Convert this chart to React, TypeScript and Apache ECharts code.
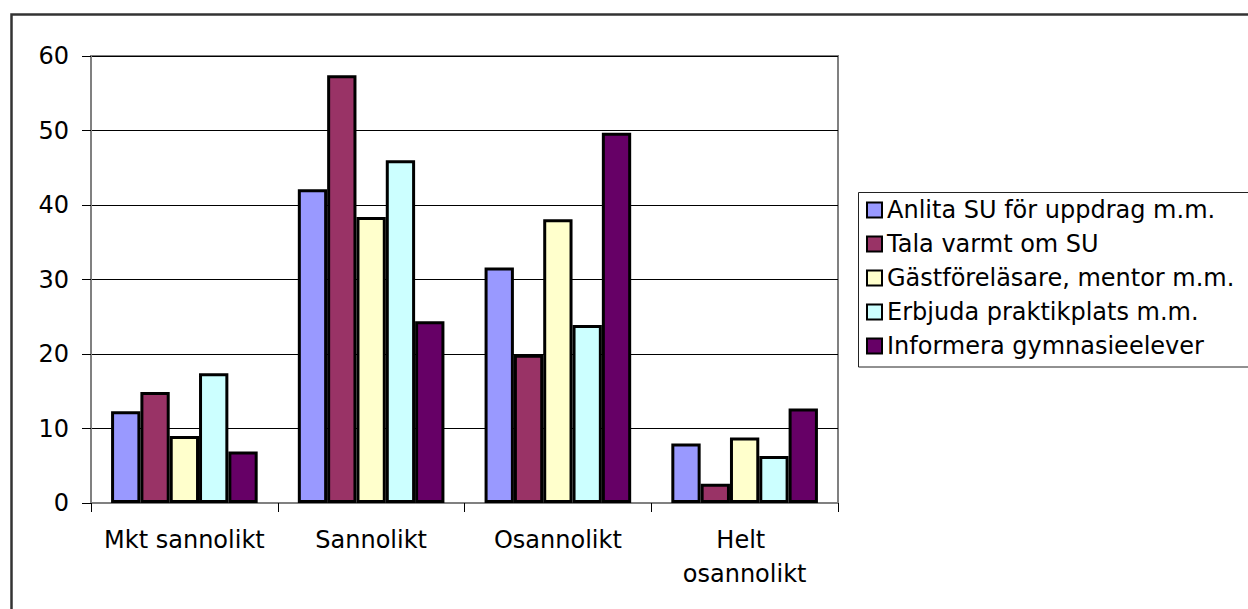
import React, { useEffect, useRef } from "react";
import * as echarts from "echarts";

const categories = ["Mkt sannolikt", "Sannolikt", "Osannolikt", "Helt osannolikt"];
const seriesNames = [
  "Anlita SU för uppdrag m.m.",
  "Tala varmt om SU",
  "Gästföreläsare, mentor m.m.",
  "Erbjuda praktikplats m.m.",
  "Informera gymnasieelever",
];
const anlita = [12.3, 42.1, 31.6, 8.0];
const tala = [14.9, 57.4, 19.9, 2.6];
const gast = [9.0, 38.4, 38.1, 8.8];
const erbjuda = [17.4, 46.0, 23.9, 6.3];
const informera = [6.9, 24.4, 49.7, 12.7];
const seriesValues = [anlita, tala, gast, erbjuda, informera];
const colors = ["#9999FF", "#993366", "#FFFFCC", "#CCFFFF", "#660066"];
const yTicks = [0, 10, 20, 30, 40, 50, 60];

const FONT = "DejaVu Sans";

export default function App() {
  const ref = useRef<HTMLDivElement>(null);
  useEffect(() => {
    if (!ref.current) return;
    const chart = echarts.init(ref.current, undefined, { renderer: "svg" });
    chart.setOption({
      animation: false,
      backgroundColor: "#ffffff",
      textStyle: { fontFamily: FONT, color: "#000" },
      graphic: [
        {
          type: "rect",
          shape: { x: 11.5, y: 14.5, width: 1400, height: 800 },
          style: { fill: "none", stroke: "#333", lineWidth: 2.5 },
          silent: true,
        },
        {
          type: "rect",
          shape: { x: 858.5, y: 192.5, width: 600, height: 174.5 },
          style: { fill: "none", stroke: "#222", lineWidth: 1 },
          silent: true,
        },
      ],
      grid: {
        left: 91,
        right: 410,
        top: 56,
        bottom: 106,
        show: true,
        borderColor: "#808080",
        borderWidth: 2,
        backgroundColor: "transparent",
      },
      legend: {
        orient: "vertical",
        left: 866,
        top: 198,
        padding: 0,
        itemWidth: 15,
        itemHeight: 15,
        itemGap: 10,
        icon: "rect",
        data: seriesNames,
        textStyle: { fontFamily: FONT, fontSize: 24, color: "#000", lineHeight: 24 },
        itemStyle: { borderColor: "#000", borderWidth: 2 },
      },
      xAxis: {
        type: "category",
        data: categories,
        axisLine: { lineStyle: { color: "#808080", width: 2 } },
        axisTick: { show: true, length: 9, lineStyle: { color: "#000", width: 1 } },
        axisLabel: {
          fontFamily: FONT,
          fontSize: 24,
          color: "#000",
          lineHeight: 34,
          margin: 20,
          width: 175,
          overflow: "break",
          interval: 0,
        },
        splitLine: { show: false },
      },
      yAxis: {
        type: "value",
        min: 0,
        max: 60,
        interval: 10,
        axisLine: { show: true, lineStyle: { color: "#808080", width: 2 } },
        axisTick: { show: true, length: 9, lineStyle: { color: "#000", width: 1 } },
        axisLabel: {
          fontFamily: FONT,
          fontSize: 24,
          color: "#000",
          margin: 22,
          formatter: (v: number) => (yTicks.includes(v) ? String(v) : ""),
        },
        splitLine: { show: true, lineStyle: { color: "#000", width: 1 } },
      },
      series: seriesNames.map((name, i) => ({
        name,
        type: "bar",
        data: seriesValues[i],
        barGap: "0%",
        barCategoryGap: "21.5%",
        itemStyle: { color: colors[i], borderColor: "#000", borderWidth: 3 },
      })),
    });
    return () => chart.dispose();
  }, []);
  return (
    <div
      ref={ref}
      style={{ position: "fixed", left: 0, top: 0, width: 1248, height: 609 }}
    />
  );
}
